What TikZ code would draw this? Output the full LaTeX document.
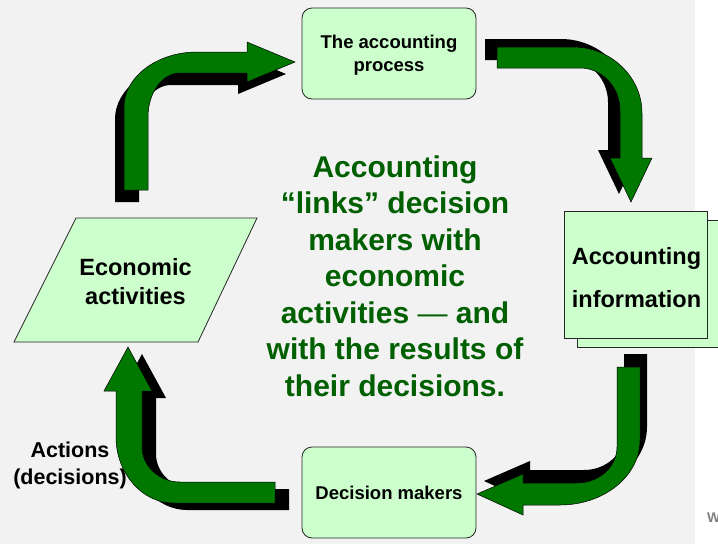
\documentclass[tikz,border=0pt]{standalone}
\usepackage{fontspec}
\setmainfont{Liberation Sans}
\definecolor{bg}{RGB}{242,242,242}
\definecolor{boxfill}{RGB}{204,255,204}
\definecolor{arrowgreen}{RGB}{0,120,0}
\definecolor{textgreen}{RGB}{0,95,0}
\begin{document}
\begin{tikzpicture}[x=1pt,y=-1pt,
  box/.style={draw=black!85, line width=0.8pt, fill=boxfill},
  rbox/.style={box, rounded corners=10pt, minimum width=174pt, minimum height=91pt, inner sep=0pt},
  boxtext/.style={align=center, inner sep=0pt, font=\bfseries\fontsize{18.5}{23}\selectfont},
  garrow/.style={fill=arrowgreen, draw=black, line width=0.5pt},
  sarrow/.style={fill=black},
  arrowA/.style={insert path={(124,190) -- (124,107) .. controls (124,77) and (157,52) .. (197,52)
    -- (247,52) -- (247,42) -- (295,62) -- (247,82) -- (247,73) -- (180,73)
    .. controls (162,73) and (148,93) .. (148,117) -- (148,190) -- cycle}},
  arrowB/.style={insert path={(497,47) -- (573,47) .. controls (611,47) and (642,77) .. (642,113)
    -- (642,158) -- (652,158) -- (631,202) -- (610,158) -- (620,158) -- (620,110)
    .. controls (620,87) and (602,68) .. (580,68) -- (497,68) -- cycle}},
  arrowC/.style={insert path={(617,367) -- (617,447) .. controls (617,467) and (599,483) .. (577,483)
    -- (523,483) -- (523,474) -- (477,494) -- (523,515) -- (523,505) -- (560,505)
    .. controls (604,505) and (640,476) .. (640,440) -- (640,367) -- cycle}},
  arrowD/.style={insert path={(275,482) -- (180,482) .. controls (159,482) and (142,466) .. (142,447)
    -- (142,391) -- (152,391) -- (128,347) -- (104,391) -- (116,391) -- (116,437)
    .. controls (116,473) and (142,503) .. (173,503) -- (275,503) -- cycle}},
]
\clip (0,0) rectangle (718,544);
\fill[bg] (0,0) rectangle (695,544);
\fill[white] (695,0) rectangle (718,544);

% block arrows with shadows
\fill[sarrow, shift={(-9,12)}, arrowA];
\path[garrow, arrowA];
\fill[sarrow, shift={(-12,-8)}, arrowB];
\path[garrow, arrowB];
\fill[sarrow, shift={(7,-13)}, arrowC];
\path[garrow, arrowC];
\fill[sarrow, shift={(14,7)}, arrowD];
\path[garrow, arrowD];

% nodes
\node[rbox] (proc) at (389,53.5) {};
\node[boxtext] (proct) at (389,55.5) {The accounting\\process};
\node[rbox] (dm) at (389,492.5) {};
\node[boxtext] (dmt) at (389,492.5) {Decision makers};

\draw[box] (577,220) rectangle (725,347);
\node[box, minimum width=143pt, minimum height=127pt, inner sep=0pt] (info) at (635.5,274.5) {};
\node[align=center, inner sep=0pt, font=\bfseries\fontsize{23.5}{43}\selectfont] (infot) at (636.5,277.5) {Accounting\\information};

\draw[box] (76,218) -- (257,218) -- (198,342) -- (14,342) -- cycle;
\node[align=center, inner sep=0pt, font=\bfseries\fontsize{23.5}{29}\selectfont] (econ) at (135.5,282) {Economic\\activities};

\node[align=center, inner sep=0pt, font=\bfseries\fontsize{21.5}{27}\selectfont] (act) at (70,465.5) {Actions\\(decisions)};

\node[align=center, inner sep=0pt, text=textgreen, font=\bfseries\fontsize{30}{36.5}\selectfont] (msg) at (395,275.8)
  {Accounting\\“links” decision\\makers with\\economic\\activities {\mdseries —} and\\with the results of\\their decisions.};

\node[anchor=base west, inner sep=0pt, text=black!50, font=\bfseries\fontsize{14}{16}\selectfont] (w) at (707,522) {W};
\end{tikzpicture}
\end{document}
